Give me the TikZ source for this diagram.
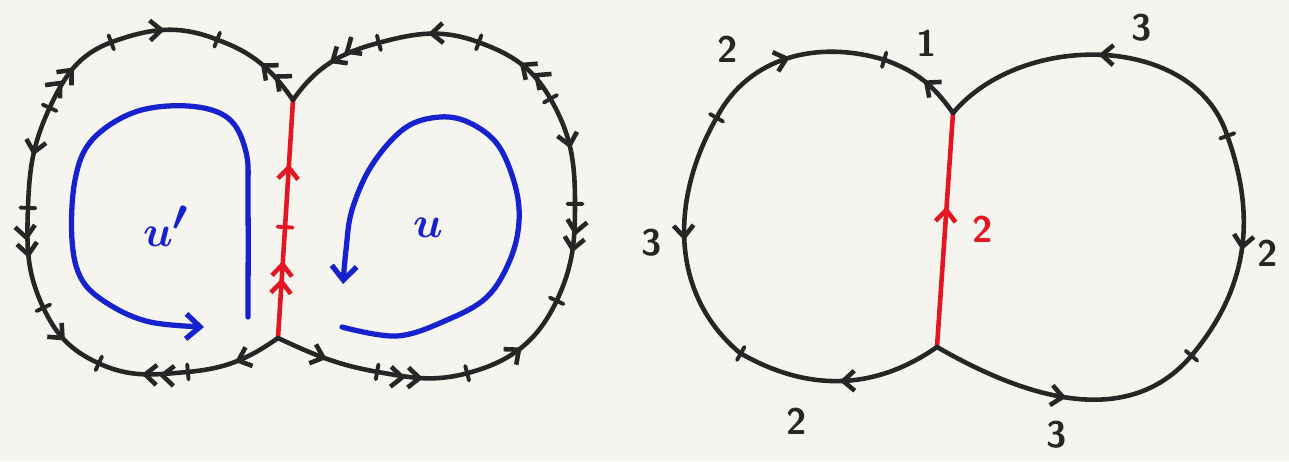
\documentclass[tikz,border=0pt]{standalone}
\usepackage{xcolor}
\usepackage{tikz}
\usetikzlibrary{arrows.meta, decorations.markings}
\definecolor{ink}{RGB}{38,38,38}
\definecolor{gluec}{RGB}{228,22,34}
\definecolor{loopc}{RGB}{22,34,205}
\definecolor{paper}{RGB}{245,244,239}

\begin{document}
\begin{tikzpicture}[x=0.02cm, y=0.02cm, line cap=round, line join=round,
    >={Straight Barb[length=2.3mm,width=4mm]},
    edge/.style={draw=ink, line width=2.6pt},
    glue/.style={draw=gluec, line width=2.6pt},
    turn/.style={draw=loopc, line width=3pt},
    fwd/.style={postaction={decorate, decoration={markings,
      mark=at position #1 with {\arrow{>}}}}},
    fwd/.default=0.5,
    back/.style={postaction={decorate, decoration={markings,
      mark=at position #1 with {\arrowreversed{>}}}}},
    back/.default=0.5,
    fwdd/.style={postaction={decorate, decoration={markings,
      mark=at position #1 with {\arrow{>>}}}}},
    fwdd/.default=0.5,
    backd/.style={postaction={decorate, decoration={markings,
      mark=at position #1 with {\arrowreversed{>>}}}}},
    backd/.default=0.5,
    notch/.style={postaction={decorate, decoration={markings,
      mark=at position 0.5pt with {\draw[line width=2.2pt] (0,-1.5mm) -- (0,1.5mm);}}}},
    plain/.style={},
    num/.style={font=\sffamily\bfseries\fontsize{21}{24}\selectfont, text=ink},
    sym/.style={font=\fontsize{44}{48}\selectfont\boldmath, text=loopc}]
  \fill[paper] (0,0) rectangle (1289,-461);

  % corners and cut points, left sketch
  \foreach \n/\x/\y in {v1/293/-100, v2/278/-338,
      a1/218/-40, a2/112/-42, a3/50/-107, a4/28/-207, a5/43/-307, a6/98/-363, a7/187/-372,
      b1/378/-43, b2/478/-42, b3/550/-98, b4/575/-203, b5/557/-300, b6/468/-373, b7/378/-372}
    \coordinate (\n) at (\x,\y);
  % corners and cut points, right sketch
  \foreach \n/\x/\y in {w1/953/-113, w2/937/-347,
      c1/885/-60, c2/717/-117, c3/740/-353, d1/1227/-135, d2/1192/-355}
    \coordinate (\n) at (\x,\y);

  % red seam
  \coordinate (r) at (285,-228);
  \draw[glue, fwdd=0.7] (v2) -- (r);
  \draw[glue, fwd=0.5, notch] (r) -- (v1);
  \draw[glue, fwd=0.6] (w2) -- (w1);

  % boundary pieces
  \foreach \a/\b/\o/\i/\m/\t in {
      v1/a1/125/340/fwdd/plain, a1/a2/158/20/back/notch, a2/a3/200/65/backd/notch,
      a3/a4/245/88/fwd/notch, a4/a5/268/115/fwdd/notch, a5/a6/295/155/fwd/notch,
      a6/a7/335/185/backd/notch, a7/v2/5/215/back/notch,
      v1/b1/55/195/backd/plain, b1/b2/15/160/back/notch, b2/b3/340/120/backd/notch,
      b3/b4/300/90/fwd/notch, b4/b5/270/65/fwdd/notch, b5/b6/245/15/back/notch,
      b6/b7/195/350/backd/notch, b7/v2/170/335/back/notch,
      w1/c1/125/340/fwd/plain, c1/c2/163/62/back/notch, c2/c3/240/140/fwd/notch,
      c3/w2/330/215/back/notch,
      w1/d1/50/108/back/plain, d1/d2/290/50/fwd/notch, d2/w2/230/330/back/notch}
    \draw[edge, \m, \t] (\a) to[out=\o, in=\i] (\b);

  % blue turns
  \draw[turn, -{Straight Barb[length=2.8mm,width=5mm]}] plot[smooth, tension=0.6] coordinates {
    (248,-317) (248,-200) (246,-152) (228,-118) (188,-106) (135,-112) (92,-140)
    (75,-180) (72,-240) (82,-280) (110,-305) (150,-322) (204,-327)};
  \draw[turn, -{Straight Barb[length=2.8mm,width=5mm]}] plot[smooth, tension=0.6] coordinates {
    (342,-327) (397,-336) (447,-320) (487,-297) (510,-260) (519,-222) (515,-185)
    (498,-145) (470,-123) (440,-117) (405,-128) (372,-165) (352,-210) (346,-250) (343,-284)};
  \node[sym] (uu) at (166,-226) {$u'$};
  \node[sym] (u) at (428,-228) {$u$};

  % edge lengths
  \node[num] (l1) at (927,-43) {1};
  \node[num] (l2) at (728,-49) {2};
  \node[num] (l3) at (652,-243) {3};
  \node[num] (l4) at (797,-421) {2};
  \node[num] (l5) at (1142,-28) {3};
  \node[num] (l6) at (1268,-253) {2};
  \node[num] (l7) at (1057,-435) {3};
  \node[num, text=gluec] (l8) at (983,-229) {2};
\end{tikzpicture}
\end{document}
